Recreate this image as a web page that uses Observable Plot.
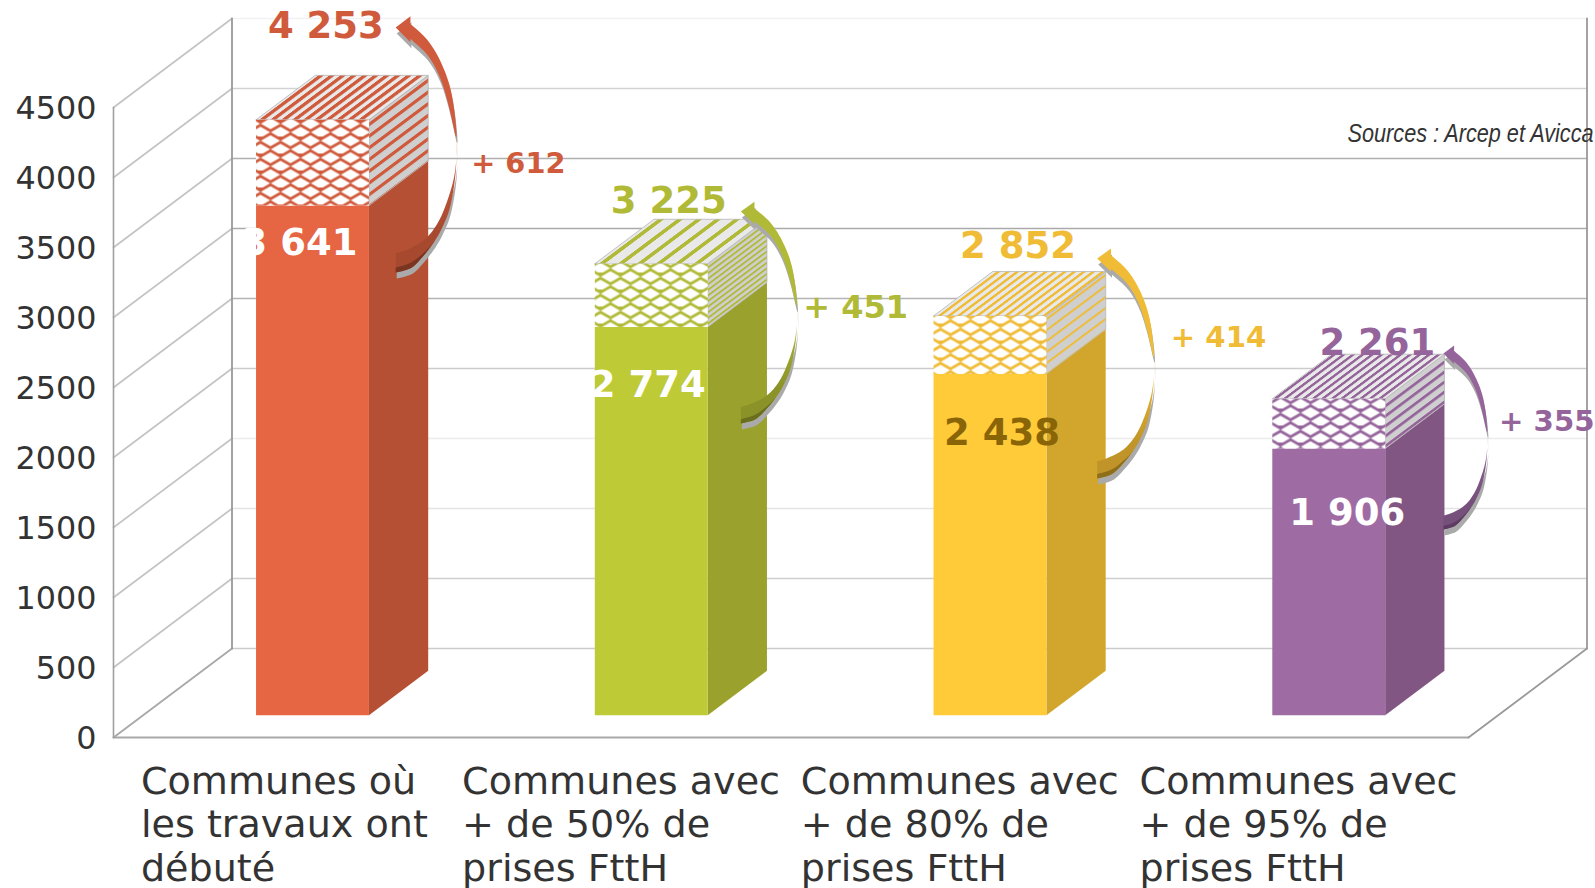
<!DOCTYPE html>
<html><head><meta charset="utf-8">
<style>html,body{margin:0;padding:0;background:#fff;overflow:hidden}svg{display:block}</style>
<script src="https://cdn.jsdelivr.net/npm/d3@7"></script>
<script src="https://cdn.jsdelivr.net/npm/@observablehq/plot@0.6"></script>
</head><body><div id="chart"></div>
<script>
// ---- data ----
const categories = [
  "Communes où\nles travaux ont\ndébuté",
  "Communes avec\n+ de 50% de\nprises FttH",
  "Communes avec\n+ de 80% de\nprises FttH",
  "Communes avec\n+ de 95% de\nprises FttH"
];
const baseValues = [3641, 2774, 2438, 1906];
const totalValues = [4253, 3225, 2852, 2261];
const deltaValues = [612, 451, 414, 355];
const yTicks = [0, 500, 1000, 1500, 2000, 2500, 3000, 3500, 4000, 4500];
const source = "Sources : Arcep et Avicca";

// ---- colours ----
const frontColors = ["#E66543", "#BFCA37", "#FFCB39", "#9F6BA3"];
const sideColors = ["#B55034", "#9AA12C", "#D2A52D", "#825683"];
const inkColors = ["#D05A3C", "#B0BA36", "#F0BB35", "#95649B"];
const tailColors = ["#A6492F", "#8A9228", "#C09428", "#74507A"];
const sliverColors = ["#7A3522", "#6A6F1E", "#8F6E1A", "#5E3C62"];
const innerInk = ["#FFFFFF", "#FFFFFF", "#8A6508", "#FFFFFF"];
const gridColors = ["#cfcfcf", "#e4e4e4", "#ececec", "#cccccc", "#b4b4b4", "#aaaaaa", "#b0b0b0", "#d2d2d2", "#f1f1f1"];

// ---- layout, in scale units (category index / value) ----
const depthX = 0.3498, depthY = 635.7; // oblique projection of the chart's depth
const barStart = 1 / 3, barEnd = 2 / 3, depth0 = 0.25, depth1 = 0.75;
const topLabelX = [0.456, 1.468, 2.499, 3.56], topLabelY = [5083, 3833, 3507, 2814];
const innerLabelX = [0.378, 1.406, 2.452, 3.471], innerLabelY = [3529, 2518, 2171, 1600];
const deltaLabelX = [1.056, 2.036, 3.121, 4.09], deltaLabelY = [4100, 3071, 2857, 2257];
const deltaSizes = [28.8, 32, 29.2, 29.2];
const arrowX0 = [0.833, 1.852, 2.904, 3.926], arrowX1 = [1.013, 2.018, 3.072, 4.056];
const arrowTop = [5071, 3757, 3421, 2743], arrowBottom = [3321, 2243, 1850, 1486];
const catLabelOffset = [0.081, 0.029, 0.029, 0.029];
const stripeTop = [[11, 5.5], [19, 6], [9.5, 4], [9.5, 4]];
const stripeSide = [[11.7, 4], [5.6, 2.2], [11, 2.4], [10, 3.4]];

const P = (c, v, d = 0) => ({x: c + d * depthX, y: v + d * depthY});
const spaced = v => `${Math.floor(v / 1000)} ${String(v % 1000).padStart(3, "0")}`;

function poly(points, options) {
  return Plot.line(points, {x: "x", y: "y", curve: "linear", stroke: "none", strokeWidth: 0.8, ...options});
}

// Catmull-Rom subdivision for the curved arrow outline
function smooth(p) {
  const out = [];
  for (let i = 0; i < p.length - 1; i++) {
    const a = p[Math.max(i - 1, 0)], b = p[i], c = p[i + 1], d = p[Math.min(i + 2, p.length - 1)];
    for (let k = 0; k < 8; k++) {
      const t = k / 8, t2 = t * t, t3 = t2 * t;
      out.push([0, 1].map(j => 0.5 * (2 * b[j] + (c[j] - a[j]) * t + (2 * a[j] - 5 * b[j] + 4 * c[j] - d[j]) * t2 + (3 * b[j] - a[j] - 3 * c[j] + d[j]) * t3)));
    }
  }
  out.push(p[p.length - 1]);
  return out;
}
const outerEdge = [[.242,-.015],[.527,.053],[.753,.148],[.918,.271],[1,.448],[.965,.6],[.807,.734],[.643,.816],[.45,.87],[.2,.905],[0,.922]];
const returnEdge = [[0,1],[.259,.98],[.478,.925],[.643,.87],[.763,.816],[.89,.734],[.98,.6],[1,.46],[.972,.433],[.862,.312],[.725,.203],[.527,.114],[.242,.046]];
const arrowShape = [[0,0],[.242,-.046],...smooth(outerEdge),...smooth(returnEdge),[.242,.06],[0,0]];
const sliverShape = [...smooth([[0,.98],[.26,.958],[.5,.91],[.64,.87]]),...smooth([[.64,.87],[.478,.925],[.259,.98],[0,1]])];
const arrowPts = (i, shape) => shape.map(([u, v]) => ({
  x: arrowX0[i] + u * (arrowX1[i] - arrowX0[i]),
  y: arrowTop[i] + v * (arrowBottom[i] - arrowTop[i])
}));

// SVG hatch patterns, referenced by the faces
function defsMark() {
  const NS = "http://www.w3.org/2000/svg";
  const defs = document.createElementNS(NS, "defs");
  const diamond = (cx, cy) => `M${cx - 9.6},${cy}L${cx},${cy - 5.6}L${cx + 9.6},${cy}L${cx},${cy + 5.6}Z`;
  const lattice = [[10, 4.25], [10, 21.25], [0, 12.75], [20, 12.75]].map(c => diamond(...c)).join("");
  let html = "";
  inkColors.forEach((ink, i) => {
    const [ts, tw] = stripeTop[i], [ss, sw] = stripeSide[i];
    html += `<pattern id="front${i}" patternUnits="userSpaceOnUse" width="20" height="17"><rect width="20" height="17" fill="${ink}"/><path d="${lattice}" fill="#fff"/></pattern>`;
    html += `<pattern id="top${i}" patternUnits="userSpaceOnUse" width="${ts}" height="10" patternTransform="skewX(-53.2)"><rect width="${ts}" height="10" fill="#e9e9e9"/><rect width="${tw}" height="10" fill="${ink}"/></pattern>`;
    html += `<pattern id="side${i}" patternUnits="userSpaceOnUse" width="10" height="${ss}" patternTransform="skewY(-36.8)"><rect width="10" height="${ss}" fill="#cfcfcf"/><rect width="10" height="${sw}" fill="${ink}"/></pattern>`;
    html += `<linearGradient id="arrow${i}" x1="0" x2="0" y1="0" y2="1"><stop offset="0.5" stop-color="${ink}"/><stop offset="0.85" stop-color="${tailColors[i]}"/></linearGradient>`;
  });
  defs.innerHTML = html;
  return defs;
}

const marks = [defsMark];

// walls and floor
yTicks.forEach((t, k) => {
  if (t === 0) return;
  const c = gridColors[k - 1];
  marks.push(poly([P(0, t), P(0, t, 1)], {stroke: "#c4c4c4", strokeWidth: 1.7}));
  marks.push(poly([P(0, t, 1), P(4, t, 1)], {stroke: c, strokeWidth: 1.7}));
});
marks.push(poly([P(0, 0, 1), P(4, 0, 1)], {stroke: "#cccccc", strokeWidth: 1.7}));
marks.push(poly([P(0, 0), P(0, 0, 1)], {stroke: "#a8a8a8", strokeWidth: 1.8}));
marks.push(poly([P(0, 0), P(4, 0)], {stroke: "#a8a8a8", strokeWidth: 1.8}));
marks.push(poly([P(4, 0), P(4, 0, 1)], {stroke: "#999", strokeWidth: 1.8}));
marks.push(poly([P(0, 0), P(0, 4500)], {stroke: "#a0a0a0", strokeWidth: 1.6}));
marks.push(poly([P(0, 0, 1), P(0, 4500, 1)], {stroke: "#999", strokeWidth: 1.8}));
marks.push(poly([P(4, 0, 1), P(4, 4500, 1)], {stroke: "#999", strokeWidth: 1.8}));

// bars
categories.forEach((_, i) => {
  const a = i + barStart, b = i + barEnd, v = baseValues[i], w = totalValues[i];
  const rect = (c1, c2, v1, v2, d) => [P(c1, v1, d), P(c2, v1, d), P(c2, v2, d), P(c1, v2, d), P(c1, v1, d)];
  const side = (v1, v2) => [P(b, v1, depth0), P(b, v1, depth1), P(b, v2, depth1), P(b, v2, depth0), P(b, v1, depth0)];
  marks.push(poly(side(0, v), {fill: sideColors[i]}));
  marks.push(poly(side(v, w), {fill: `url(#side${i})`, stroke: "#b5b5b5"}));
  marks.push(poly([P(a, w, depth0), P(b, w, depth0), P(b, w, depth1), P(a, w, depth1), P(a, w, depth0)], {fill: `url(#top${i})`, stroke: "#b5b5b5"}));
  marks.push(poly(rect(a, b, 0, v, depth0), {fill: frontColors[i]}));
  marks.push(poly(rect(a, b, v, w, depth0), {fill: `url(#front${i})`}));
});

// curved arrows
categories.forEach((_, i) => {
  marks.push(poly(arrowPts(i, arrowShape), {fill: "#aaaaaa", dx: 1, dy: 6}));
  marks.push(poly(arrowPts(i, arrowShape), {fill: `url(#arrow${i})`}));
  marks.push(poly(arrowPts(i, sliverShape), {fill: sliverColors[i]}));
});

// labels
const idx = d3.range(categories.length);
const font = "DejaVu Sans";
marks.push(
  Plot.axisY({ticks: yTicks, tickSize: 0, tickPadding: 17, dy: 1, fontSize: 31.8, tickFormat: d => String(d), label: null, color: "#333", fontFamily: font}),
  Plot.text(idx, {x: i => i + catLabelOffset[i], y: () => -183, text: i => categories[i], textAnchor: "start", lineAnchor: "top", lineHeight: 1.14, fontSize: 38.1, fill: "#333", fontFamily: font}),
  Plot.text(idx, {x: i => topLabelX[i], y: i => topLabelY[i], text: i => spaced(totalValues[i]), textAnchor: "start", fontSize: 37, fontWeight: "bold", fill: i => inkColors[i], fontFamily: font}),
  Plot.text(idx, {x: i => innerLabelX[i], y: i => innerLabelY[i], text: i => spaced(baseValues[i]), textAnchor: "start", fontSize: 37, fontWeight: "bold", fill: i => innerInk[i], fontFamily: font}),
  ...idx.map(i => Plot.text([i], {x: deltaLabelX[i], y: deltaLabelY[i], text: () => `+ ${deltaValues[i]}`, textAnchor: "start", fontSize: deltaSizes[i], fontWeight: "bold", fill: inkColors[i], fontFamily: font})),
  Plot.text([source], {x: 3.643, y: 4314, textAnchor: "start", fontSize: 25, fontStyle: "italic", fill: "#333", fontFamily: "Liberation Sans", className: "source"})
);

const chart = Plot.plot({
  width: 1595, height: 888,
  marginLeft: 113, marginRight: 127, marginTop: 107, marginBottom: 151,
  style: {background: "#fff", fontFamily: font, overflow: "hidden"},
  x: {domain: [0, 4], axis: null},
  y: {domain: [0, 4500]},
  color: {type: "identity"},
  marks
});
document.getElementById("chart").append(chart);
// the source note is set in a condensed italic: fit it to its width
chart.querySelectorAll(".source text").forEach(t => {
  t.setAttribute("textLength", 246);
  t.setAttribute("lengthAdjust", "spacingAndGlyphs");
});
</script></body></html>
